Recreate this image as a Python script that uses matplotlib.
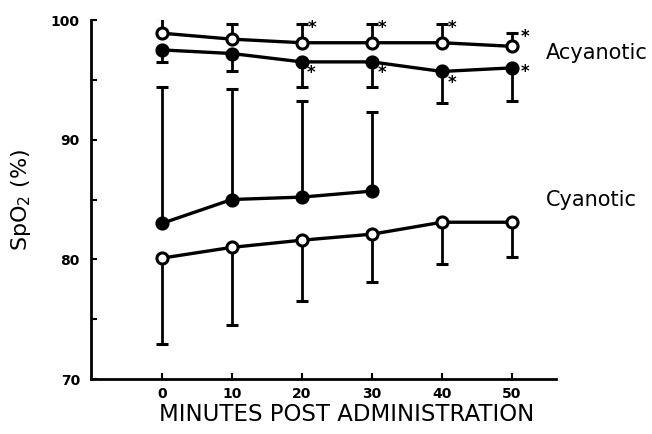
import matplotlib
matplotlib.use("Agg")
import matplotlib.pyplot as plt

# Time points (minutes after administration)
minutes = [0, 10, 20, 30, 40, 50]
minutes_cyan_closed = [0, 10, 20, 30]

# Acyanotic group: open circles (SD drawn upward) and filled circles (SD drawn downward)
acy_open = [98.9, 98.4, 98.1, 98.1, 98.1, 97.8]
acy_open_sd = [1.3, 1.3, 1.6, 1.6, 1.6, 1.1]
acy_closed = [97.5, 97.2, 96.5, 96.5, 95.7, 96.0]
acy_closed_sd = [1.0, 1.5, 2.1, 2.1, 2.6, 2.8]

# Cyanotic group
cya_closed = [83.0, 85.0, 85.2, 85.7]
cya_closed_sd = [11.4, 9.2, 8.0, 6.6]
cya_open = [80.1, 81.0, 81.6, 82.1, 83.1, 83.1]
cya_open_sd = [7.2, 6.5, 5.1, 4.0, 3.5, 2.9]

# Time points marked as significant
acy_open_sig = [20, 30, 40, 50]
acy_closed_sig = [20, 30, 40, 50]

x_ticks = [0, 10, 20, 30, 40, 50]
y_ticks = [70, 80, 90, 100]
y_minor = [75, 85, 95]

label_font = "DejaVu Sans"

fig = plt.figure(figsize=(6.52, 4.34), dpi=100)
ax = fig.add_axes([91 / 652, 1 - 379 / 434, (556 - 91) / 652, (379 - 20) / 434])


def series(x, y, sd, filled, up):
    ends = [v + s if up else v - s for v, s in zip(y, sd)]
    # one-sided SD bars with a cap only at the far end
    ax.vlines(x, y, ends, color="black", lw=2.0, zorder=2)
    ax.plot(x, ends, linestyle="none", marker="_", markersize=9,
            markeredgewidth=2.2, color="black", zorder=2)
    ax.plot(x, y, "-o", color="black", lw=2.4, markersize=8,
            markeredgewidth=2.2, markeredgecolor="black",
            markerfacecolor="black" if filled else "white", zorder=3)


series(minutes, acy_open, acy_open_sd, filled=False, up=True)
series(minutes, acy_closed, acy_closed_sd, filled=True, up=False)
series(minutes_cyan_closed, cya_closed, cya_closed_sd, filled=True, up=True)
series(minutes, cya_open, cya_open_sd, filled=False, up=False)

# Asterisks beside the acyanotic points
for m in acy_open_sig:
    i = minutes.index(m)
    dx = 9.5 if m == 50 else 7.5
    ax.annotate("*", xy=(m, acy_open[i] + acy_open_sd[i]), xytext=(dx, -3),
                textcoords="offset points", ha="center", va="center",
                fontsize=12, fontweight="bold")
for m in acy_closed_sig:
    i = minutes.index(m)
    off = (9.5, -3) if m == 50 else (7, -8)
    ax.annotate("*", xy=(m, acy_closed[i]), xytext=off,
                textcoords="offset points", ha="center", va="center",
                fontsize=12, fontweight="bold")

ax.set_xlim(-10.1, 56.3)
ax.set_ylim(70, 100)
ax.set_xticks(x_ticks)
ax.set_yticks(y_ticks)
ax.set_yticks(y_minor, minor=True)
ax.tick_params(axis="both", which="both", direction="in", width=1.5, length=4,
               labelsize=10)
ax.tick_params(axis="y", which="major", pad=8)
ax.tick_params(axis="x", which="major", pad=6)
for lab in ax.get_xticklabels() + ax.get_yticklabels():
    lab.set_fontweight("bold")

for side in ("top", "right"):
    ax.spines[side].set_visible(False)
for side in ("left", "bottom"):
    ax.spines[side].set_linewidth(2.0)

ax.set_xlabel("MINUTES POST ADMINISTRATION", fontsize=16.5, family=label_font)
ax.xaxis.set_label_coords(0.55, -0.068)
ax.set_ylabel("SpO$_2$ (%)", fontsize=16, family=label_font, labelpad=13)

fig.text(546 / 652, 1 - 53 / 434, "Acyanotic", fontsize=15, family=label_font,
         ha="left", va="center")
fig.text(546 / 652, 1 - 200 / 434, "Cyanotic", fontsize=15, family=label_font,
         ha="left", va="center")

fig.savefig("out.png", dpi=100)
